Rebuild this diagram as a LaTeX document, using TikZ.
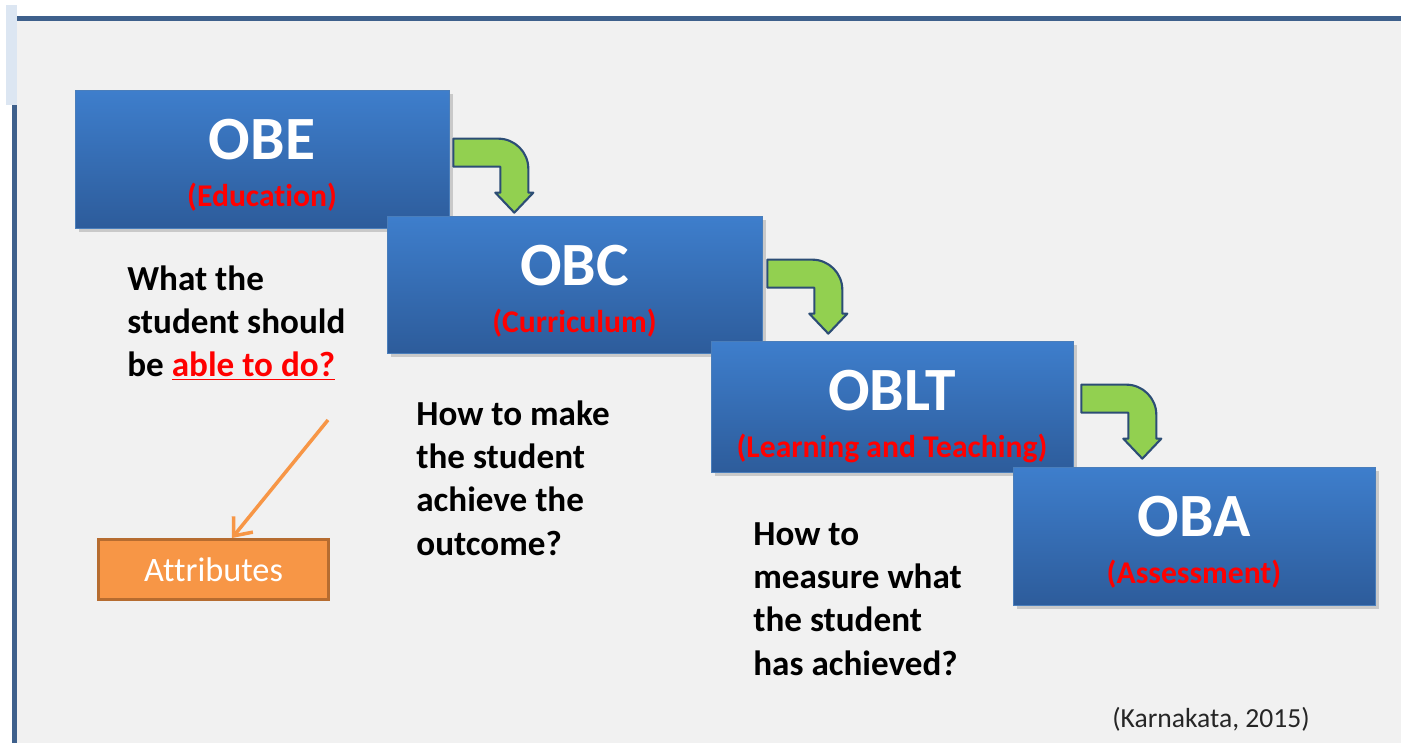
\documentclass[tikz,border=0pt]{standalone}
\usepackage{fontspec}
\setmainfont{Carlito}[Ligatures=NoCommon]
\usepackage{xcolor}
\usepackage{tikz}
\usetikzlibrary{arrows.meta, positioning, shadows}
\definecolor{blk_top}{RGB}{62,126,204}
\definecolor{blk_bot}{RGB}{45,92,155}
\definecolor{blk_edge}{RGB}{74,126,187}
\definecolor{bend_green}{RGB}{146,208,80}
\definecolor{bend_edge}{RGB}{44,77,117}
\definecolor{attr_fill}{RGB}{247,150,70}
\definecolor{attr_edge}{RGB}{182,108,48}
\definecolor{frame_blue}{RGB}{62,96,140}
\definecolor{frame_light}{RGB}{220,230,242}
\definecolor{panel_gray}{RGB}{241,241,241}

\begin{document}
\begin{tikzpicture}[x=0.02cm, y=-0.02cm,
        blk/.style={draw=blk_edge, line width=0.4pt, inner sep=0pt,
                    top color=blk_top, bottom color=blk_bot,
                    drop shadow={shadow xshift=2.5pt, shadow yshift=-2.5pt, opacity=0.35}},
        ttl/.style={anchor=base, inner sep=0pt, text=white,
                    font=\fontsize{35}{40}\selectfont\bfseries},
        subt/.style={anchor=base, inner sep=0pt, text=red,
                     font=\fontsize{18}{22}\selectfont\bfseries},
        qtxt/.style={anchor=base west, align=left, inner sep=0pt,
                     font=\fontsize{20}{24.5}\selectfont\bfseries},
        bendarrow/.style={draw=bend_edge, line width=1.2pt, fill=bend_green, line join=round},
        attrbox/.style={draw=attr_edge, line width=1.7pt, fill=attr_fill, text=white,
                        minimum width=4.6cm, minimum height=1.2cm,
                        font=\fontsize{19.5}{23}\selectfont}]
        % slide background
        \useasboundingbox (0,0) rectangle (1401,743);
        \fill[white] (0,0) rectangle (1401,743);
        \fill[panel_gray] (17,21) rectangle (1401,743);
        \fill[frame_blue] (17,16) rectangle (1401,21);
        \fill[frame_blue] (12,105) rectangle (17,743);
        \fill[frame_light] (6,5) rectangle (17,105);

        % the four steps
        \node[blk, minimum width=7.48cm, minimum height=2.76cm] (obe) at (262,159) {};
          \node[ttl] (obe_t) at ([yshift=-1.40cm]obe.north) {OBE};
          \node[subt] (obe_s) at ([yshift=-2.34cm]obe.north) {(Education)};
        \node[blk, minimum width=7.50cm, minimum height=2.74cm] (obc) at (574.5,284.5) {};
          \node[ttl] (obc_t) at ([yshift=-1.40cm]obc.north) {OBC};
          \node[subt] (obc_s) at ([yshift=-2.34cm]obc.north) {(Curriculum)};
        \node[blk, minimum width=7.24cm, minimum height=2.62cm] (oblt) at (892,406.5) {};
          \node[ttl] (oblt_t) at ([yshift=-1.40cm]oblt.north) {OBLT};
          \node[subt] (oblt_s) at ([yshift=-2.34cm]oblt.north) {(Learning and Teaching)};
        \node[blk, minimum width=7.24cm, minimum height=2.76cm] (oba) at (1194,536) {};
          \node[ttl] (oba_t) at ([yshift=-1.40cm]oba.north) {OBA};
          \node[subt] (oba_s) at ([yshift=-2.34cm]oba.north) {(Assessment)};

        % bent arrows between the steps
        \foreach \a/\dx/\dy in {obe/4/49, obc/5/44, oblt/8/44}
          \draw[bendarrow, shift={(\a.north east)}, shift={(\dx,\dy)}]
            (0,0) -- (45,0) .. controls (61.5,0) and (75,13.5) .. (75,30)
            -- (75,54) -- (80,54) -- (61,74) -- (42,54) -- (47,54)
            -- (47,28) -- (0,28) -- cycle;

        % questions (base = last line)
        \node[qtxt] (q_obe) at (127,377)
          {What the\\student should\\be {\color{red}\underline{able to do?}}};
        \node[qtxt] (q_obc) at (416,555)
          {How to make\\the student\\achieve the\\outcome?};
        \node[qtxt] (q_oblt) at (753,675)
          {How to\\measure what\\the student\\has achieved?};

        % attributes
        \node[attrbox] (attr) at (213.5,569.5) {Attributes};
        \coordinate (attr_from) at (328,420);
        \draw[attr_fill, line width=2pt, -{Straight Barb[length=3mm, width=5mm]}]
          (attr_from) -- ([xshift=0.37cm]attr.north);

        \node[anchor=base west, inner sep=0pt, text=black!85,
              font=\fontsize{15.7}{19}\selectfont] (cite) at (1112,727)
          {(Karnakata, 2015)};
\end{tikzpicture}
\end{document}
